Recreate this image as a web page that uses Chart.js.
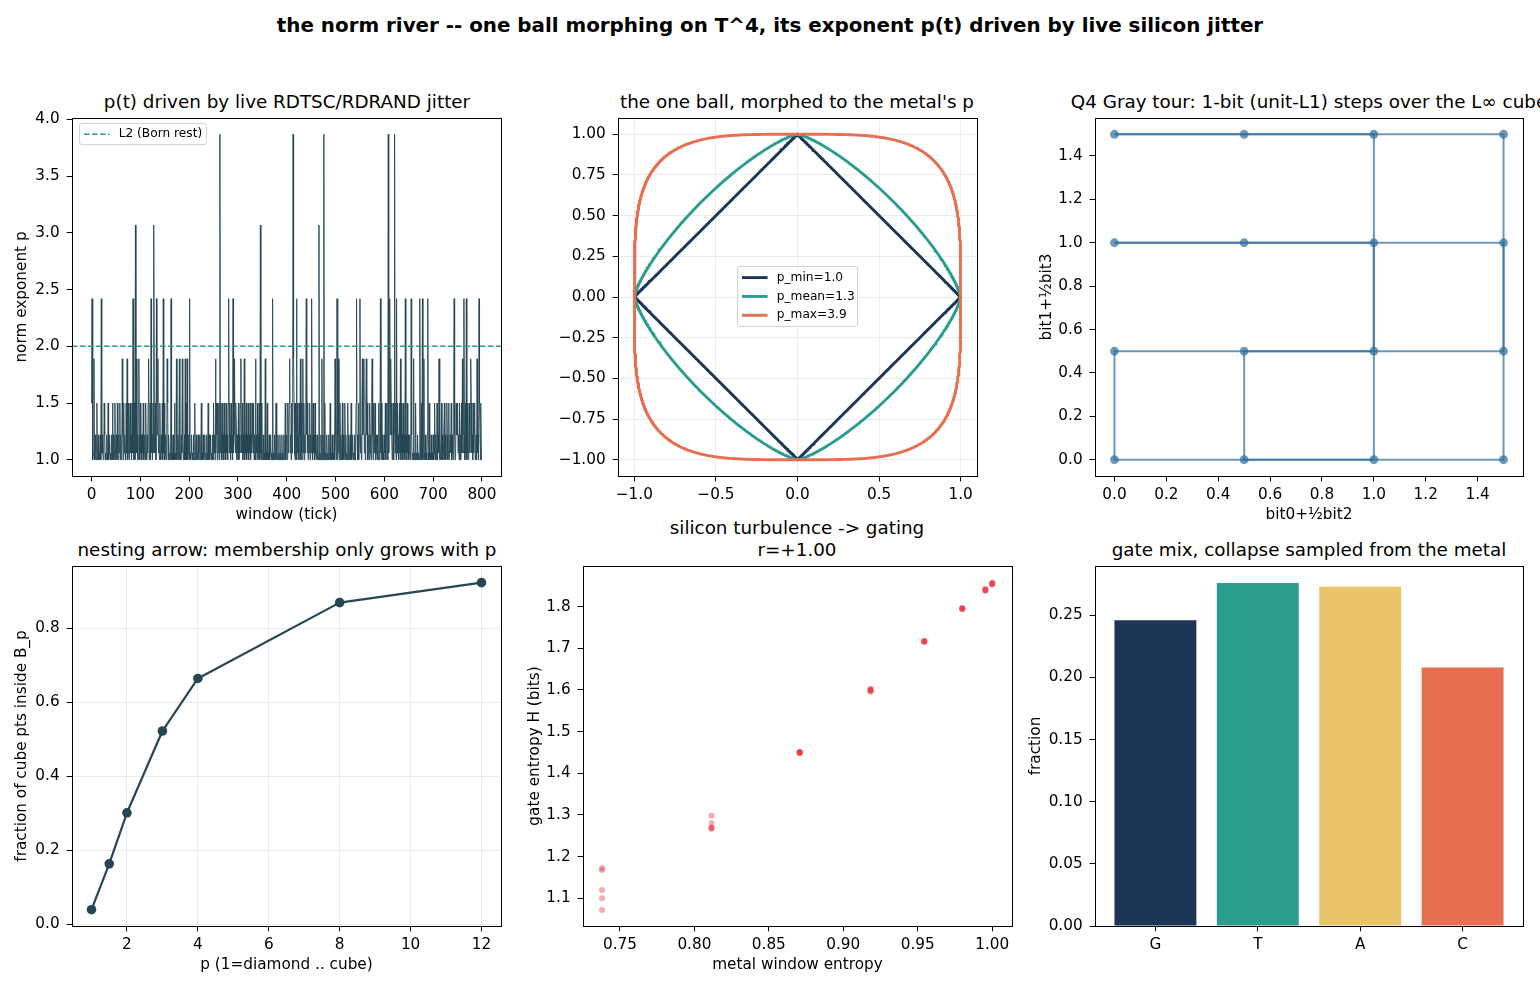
<!DOCTYPE html>
<html>
<head>
<meta charset="utf-8">
<title>the norm river</title>
<script src="https://cdn.jsdelivr.net/npm/chart.js@4.4.1/dist/chart.umd.min.js"></script>
<style>
  html, body { margin: 0; padding: 0; background: #fff; }
  body { position: relative; width: 1540px; height: 990px; overflow: hidden; font-family: "DejaVu Sans", sans-serif; color: #000; }
  canvas { position: absolute; }
  .ttl { position: absolute; white-space: nowrap; transform: translateX(-50%); font-size: 18.33px; line-height: 22px; }
  .sup { position: absolute; white-space: nowrap; transform: translateX(-50%); font-size: 19.86px; font-weight: bold; line-height: 24px; }
  .leg { position: absolute; box-sizing: border-box; border: 1px solid #d3d3d3; border-radius: 3px; background: rgba(255,255,255,0.8); }
  .leg svg { position: absolute; left: 0; top: 0; }
  .leg span { position: absolute; white-space: nowrap; line-height: 14px; }
</style>
</head>
<body>
<div class="sup" style="left:770px;top:14px">the norm river -- one ball morphing on T^4, its exponent p(t) driven by live silicon jitter</div>
<div class="ttl" style="left:287px;top:91px">p(t) driven by live RDTSC/RDRAND jitter</div>
<div class="ttl" style="left:797px;top:91px">the one ball, morphed to the metal's p</div>
<div class="ttl" style="left:1309px;top:91px">Q4 Gray tour: 1-bit (unit-L1) steps over the L∞ cube</div>
<div class="ttl" style="left:287px;top:539px">nesting arrow: membership only grows with p</div>
<div class="ttl" style="left:797px;top:517px">silicon turbulence -&gt; gating</div>
<div class="ttl" style="left:797px;top:539px">r=+1.00</div>
<div class="ttl" style="left:1309px;top:539px">gate mix, collapse sampled from the metal</div>
<script>
// ---- data ----
// p(t): quantised exponent levels, a baseline code per tick, and the spikes
const pLevels = [1.0, 1.06, 1.22, 1.5, 1.89, 2.42, 3.07, 3.87];
const pBaseCodes = [
  '3020131021 0301201020 3121013201 0210301201 0213020130',
  '1203102130 2013203121 0312013023 1203120130 2131203120',
  '3120213012 0310213201 3021203102 1301320120 3102130213',
  '0120103021 0012010201 3010201202 1010210201 2010302012',
  '0210120102 0130120102 1020130102 0120102103 0201201020',
  '3120213203 1302132031 2031203120 3213203120 3120213202',
  '1302130213 0213021302 1302130213 2130213021 3021302130',
  '0120102010 3010201201 0201020130 1020102010 2010201302',
  '2031230120 3122031031 2031203210 3102130213 0231021302',
  '1320312031 0120103010 2010201030 1020102013 0102010201',
  '2013020103 0201302013 0201030201 2030120102 0130201302',
  '3120312301 2031230120 3210312031 2301202013 0201302010',
  '2130231021 3021320130 2113021312 0312031203 1203120312',
  '0120102010 2010301020 1020103010 2010201020 1030102010',
  '2013020130 2100201302 0113020132 0130021302 1030201322',
  '3120312031 2213203120 3102312031 2031230120 3120132030'
].join('').replace(/\s/g, '');
const spikes4 = [5, 63, 73, 92, 97, 117, 136, 155, 174, 180, 186, 192, 196, 254, 293, 306, 313, 336, 356,
                 406, 414, 428, 433, 472, 499, 506, 555, 558, 563, 575, 613, 633, 660, 681, 712, 760, 777, 790];
const spikes5 = [1, 20, 85, 122, 133, 147, 163, 201, 281, 290, 371, 420, 440, 451, 503, 543, 550, 592,
                 611, 625, 643, 655, 673, 678, 689, 743, 763, 768, 794];
const spikes6 = [90, 128, 346, 466];
const spikes7 = [263, 413, 476, 608, 621];
const bornRest = 2;

// the one ball
const ballP = [1.0, 1.3, 3.9];
const ballNames = ['p_min', 'p_mean', 'p_max'];

// Q4 Gray tour
const tourX = [0, 1, 1, 0, 0.5, 1.5, 1.5, 0.5, 0.5, 1.5, 1.5, 0.5, 0, 1, 1, 0];
const tourY = [0, 0, 1, 1, 1, 1, 0, 0, 0.5, 0.5, 1.5, 1.5, 1.5, 1.5, 0.5, 0.5];

// nesting arrow
const nestP = [1, 1.5, 2, 3, 4, 8, 12];
const nestFrac = [0.040, 0.164, 0.302, 0.523, 0.665, 0.870, 0.924];

// silicon turbulence -> gating
const metalH = [0.738, 0.738, 0.738, 0.738, 0.738,
                0.8115, 0.8115, 0.8115, 0.8115, 0.8115,
                0.8707, 0.8707, 0.8707, 0.8707, 0.8707, 0.8707,
                0.9183, 0.9183, 0.9183, 0.9183, 0.9183, 0.9183,
                0.9544, 0.9544, 0.9544, 0.9544, 0.9544,
                0.9799, 0.9799, 0.9799, 0.9799, 0.9799,
                0.9954, 0.9954, 0.9954, 0.9954, 0.9954,
                1.0, 1.0, 1.0, 1.0, 1.0];
const gateH = [1.172, 1.168, 1.120, 1.100, 1.072,
               1.298, 1.280, 1.270, 1.268, 1.267,
               1.452, 1.450, 1.449, 1.451, 1.450, 1.448,
               1.603, 1.600, 1.598, 1.596, 1.601, 1.599,
               1.718, 1.716, 1.717, 1.715, 1.717,
               1.797, 1.795, 1.796, 1.794, 1.795,
               1.843, 1.840, 1.838, 1.841, 1.839,
               1.858, 1.855, 1.853, 1.856, 1.854];

// gate mix
const gateLabels = ['G', 'T', 'A', 'C'];
const gateFrac = [0.246, 0.276, 0.273, 0.208];

// ---- styles ----
const ballColors = ['#1d3557', '#2a9d8f', '#e76f51'];
const gateColors = ['#1d3557', '#2a9d8f', '#e9c46a', '#e76f51'];
const tourColor = 'rgba(45,110,155,0.7)';

// top padding must stay above half a tick label + tick padding, or chart.js pushes the plot down
const FS = 15.28, LH = FS * 1.2, PAD_T = 22, PAD_R = 25, TICK = 5.35;

Chart.defaults.font.family = '"DejaVu Sans", sans-serif';
Chart.defaults.font.size = FS;
Chart.defaults.color = '#000';
Chart.defaults.animation = false;
Chart.defaults.plugins.legend.display = false;
Chart.defaults.plugins.tooltip.enabled = false;

function makeCanvas(box, ylabX, xlabY) {
  const left = Math.round(ylabX != null ? ylabX - LH / 2 : box.l - 64);
  const top = box.t - PAD_T;
  const bottom = Math.round(xlabY != null ? xlabY + LH / 2 : box.b + 34);
  const right = box.r + PAD_R;
  const cv = document.createElement('canvas');
  cv.width = right - left;
  cv.height = bottom - top;
  cv.style.left = left + 'px';
  cv.style.top = top + 'px';
  cv.style.width = cv.width + 'px';
  cv.style.height = cv.height + 'px';
  document.body.appendChild(cv);
  return { cv: cv, yW: box.l - left, xH: bottom - box.b };
}

// matplotlib style numbers, with a real minus sign
function num(v, dec) {
  if (Math.abs(v) < 1e-9) v = 0;
  const s = Math.abs(v).toFixed(dec);
  return v < 0 ? '\u2212' + s : s;
}

function axis(pos, min, max, step, dec, label, size, grid, fmt) {
  return {
    type: 'linear', position: pos, min: min, max: max, offset: false,
    afterFit: function (s) { if (pos === 'left') s.width = size; else s.height = size; },
    ticks: {
      stepSize: step, includeBounds: false, autoSkip: false, maxRotation: 0, minRotation: 0,
      padding: pos === 'left' ? 7 : 5, color: '#000', font: { size: FS },
      callback: fmt || function (v) { return num(v, dec); }
    },
    grid: { display: true, drawOnChartArea: !!grid, offset: false, color: '#ebebeb', lineWidth: 1,
            tickColor: '#000', tickLength: TICK, tickWidth: 1 },
    border: { display: true, color: '#000', width: 1 },
    title: { display: !!label, text: label || '', padding: 0, color: '#000', font: { size: FS } }
  };
}

const al = v => Math.round(v - 0.5) + 0.5;
const spines = {
  id: 'spines',
  afterDraw(chart) {
    const a = chart.chartArea, c = chart.ctx;
    c.save();
    c.strokeStyle = '#000';
    c.lineWidth = 1;
    c.strokeRect(al(a.left), al(a.top), Math.round(a.right - a.left), Math.round(a.bottom - a.top));
    c.restore();
  }
};

function baseOptions(x, y) {
  return {
    responsive: false, animation: false,
    layout: { padding: { top: PAD_T, right: PAD_R, left: 0, bottom: 0 } },
    scales: { x: x, y: y },
    elements: { line: { tension: 0, borderJoinStyle: 'round', borderCapStyle: 'round' } }
  };
}

function addLegend(l, t, w, h, rows, fs) {
  const d = document.createElement('div');
  d.className = 'leg';
  d.style.cssText = 'left:' + l + 'px;top:' + t + 'px;width:' + w + 'px;height:' + h + 'px;font-size:' + fs + 'px';
  let svg = '<svg width="' + w + '" height="' + h + '">';
  rows.forEach(r => {
    svg += '<line x1="4" x2="29.6" y1="' + r.y + '" y2="' + r.y + '" stroke="' + r.color + '" stroke-width="' + r.lw + '"' +
           (r.dash ? ' stroke-dasharray="' + r.dash + '"' : '') + '/>';
  });
  svg += '</svg>';
  d.innerHTML = svg + rows.map(r => '<span style="left:39px;top:' + (r.y - 7.5) + 'px">' + r.text + '</span>').join('');
  document.body.appendChild(d);
}

// ---- p(t) series ----
const codes = pBaseCodes.split('').map(Number);
spikes4.forEach(t => { codes[t] = 4; });
spikes5.forEach(t => { codes[t] = 5; });
spikes6.forEach(t => { codes[t] = 6; });
spikes7.forEach(t => { codes[t] = 7; });
const pSeries = codes.map(c => pLevels[c]);

const tlX = [-40, 839];
const tl = makeCanvas({ l: 72, t: 118, r: 501, b: 476 }, 22, 515);
new Chart(tl.cv, {
  type: 'line',
  data: {
    datasets: [
      { data: tlX.map(x => ({ x: x, y: bornRest })), borderColor: '#2a9d8f', borderWidth: 1.5,
        borderDash: [5.6, 2.4], borderCapStyle: 'butt', pointRadius: 0 },
      { data: pSeries.map((y, x) => ({ x: x, y: y })), borderColor: '#264653', borderWidth: 0.9,
        borderJoinStyle: 'miter', pointRadius: 0 }
    ]
  },
  options: baseOptions(
    axis('bottom', tlX[0], tlX[1], 100, 0, 'window (tick)', tl.xH),
    axis('left', 0.857, 4.013, 0.5, 1, 'norm exponent p', tl.yW)
  ),
  plugins: [spines]
});
addLegend(78.7, 122.7, 128.5, 22.5,
  [{ y: 10.3, color: '#2a9d8f', lw: 1.5, dash: '5.6 2.4', text: 'L' + bornRest + ' (Born rest)' }], 12.2);

// ---- the one ball ----
function ballCurve(p) {
  const pts = [];
  const n = 720;
  for (let i = 0; i <= n; i++) {
    const t = 2 * Math.PI * i / n;
    const c = Math.cos(t), s = Math.sin(t);
    pts.push({ x: Math.sign(c) * Math.pow(Math.abs(c), 2 / p), y: Math.sign(s) * Math.pow(Math.abs(s), 2 / p) });
  }
  return pts;
}
const tm = makeCanvas({ l: 618, t: 118, r: 977, b: 476 }, null, null);
new Chart(tm.cv, {
  type: 'scatter',
  data: {
    datasets: ballP.map((p, k) => ({
      data: ballCurve(p), showLine: true, pointRadius: 0, borderColor: ballColors[k], borderWidth: 2.9,
      order: ballP.length - k
    }))
  },
  options: baseOptions(
    axis('bottom', -1.1, 1.1, 0.5, 1, null, tm.xH, true),
    axis('left', -1.1, 1.1, 0.25, 2, null, tm.yW, true)
  ),
  plugins: [spines]
});
addLegend(736.7, 265.7, 121.6, 61,
  ballP.map((p, k) => ({ y: 10.6 + 18.85 * k, color: ballColors[k], lw: 2.9, text: ballNames[k] + '=' + p.toFixed(1) })), 12.2);

// ---- Q4 Gray tour ----
const tr = makeCanvas({ l: 1095, t: 118, r: 1523, b: 476 }, 1047, 515);
const tourSegs = tourX.map((x, i) => {
  const j = (i + 1) % tourX.length;
  return {
    data: [{ x: tourX[i], y: tourY[i] }, { x: tourX[j], y: tourY[j] }],
    showLine: true, pointRadius: 0, borderColor: tourColor, borderWidth: 2, borderCapStyle: 'butt'
  };
});
new Chart(tr.cv, {
  type: 'scatter',
  data: {
    datasets: [{
      data: tourX.map((x, i) => ({ x: x, y: tourY[i] })), showLine: false,
      pointRadius: 4.4, pointBackgroundColor: tourColor, pointBorderWidth: 0
    }].concat(tourSegs)
  },
  options: baseOptions(
    axis('bottom', -0.075, 1.575, 0.2, 1, 'bit0+½bit2', tr.xH),
    axis('left', -0.075, 1.575, 0.2, 1, 'bit1+½bit3', tr.yW)
  ),
  plugins: [spines]
});

// ---- nesting arrow ----
const bl = makeCanvas({ l: 72, t: 566, r: 501, b: 926 }, 22, 965);
new Chart(bl.cv, {
  type: 'line',
  data: {
    datasets: [{
      data: nestP.map((p, i) => ({ x: p, y: nestFrac[i] })), borderColor: '#264653', borderWidth: 2.2,
      pointRadius: 4.8, pointBackgroundColor: '#264653', pointBorderWidth: 0
    }]
  },
  options: baseOptions(
    axis('bottom', 0.45, 12.55, 2, 0, 'p (1=diamond .. cube)', bl.xH, true),
    axis('left', -0.004, 0.969, 0.2, 1, 'fraction of cube pts inside B_p', bl.yW, true)
  ),
  plugins: [spines]
});

// ---- silicon turbulence -> gating ----
const bm = makeCanvas({ l: 583, t: 566, r: 1012, b: 926 }, 535, 965);
new Chart(bm.cv, {
  type: 'scatter',
  data: {
    datasets: [{
      data: metalH.map((x, i) => ({ x: x, y: gateH[i] })), pointRadius: 3,
      pointBackgroundColor: 'rgba(230,57,70,0.42)', pointBorderWidth: 0
    }]
  },
  options: baseOptions(
    axis('bottom', 0.7252, 1.0133, 0.05, 2, 'metal window entropy', bm.xH),
    axis('left', 1.0335, 1.8975, 0.1, 1, 'gate entropy H (bits)', bm.yW)
  ),
  plugins: [spines]
});

// ---- gate mix ----
const br = makeCanvas({ l: 1095, t: 566, r: 1523, b: 926 }, 1036, null);
new Chart(br.cv, {
  type: 'bar',
  data: {
    datasets: [{
      data: gateFrac.map((y, x) => ({ x: x, y: y })), backgroundColor: gateColors, borderWidth: 0,
      categoryPercentage: 1, barPercentage: 0.8
    }]
  },
  options: baseOptions(
    axis('bottom', -0.59, 3.59, 1, 0, null, br.xH, false, v => (gateLabels[v] !== undefined ? gateLabels[v] : '')),
    axis('left', 0, 0.2896, 0.05, 2, 'fraction', br.yW)
  ),
  plugins: [spines]
});
</script>
</body>
</html>
